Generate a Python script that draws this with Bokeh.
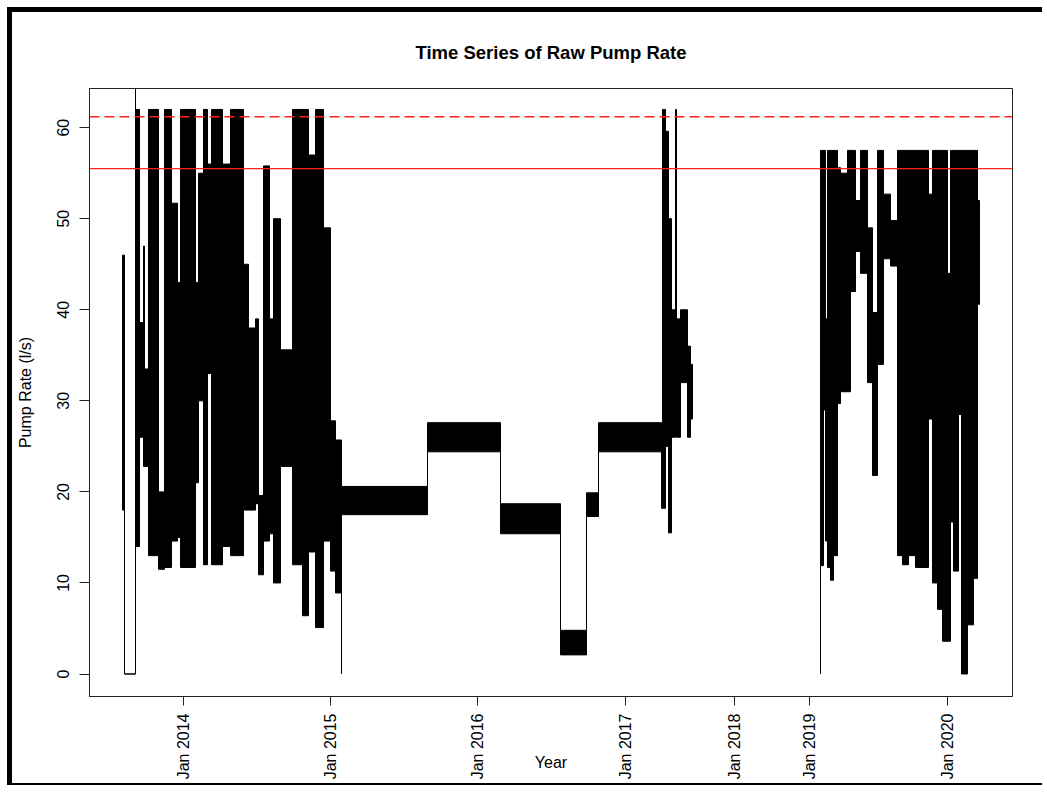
import math
from bokeh.plotting import figure
from bokeh.models import Range1d, FixedTicker, Span
from bokeh.embed import file_html
from bokeh.resources import INLINE

# ---- data -----------------------------------------------------------------
# Each stretch of the (very dense) raw series: observation index range and the
# min / max pump rate (l/s) that the trace covers inside that stretch.
seg_start = [0, 20, 20, 130, 130, 170, 210, 220, 260, 360, 420, 490, 550, 580,
             730, 760, 810, 850, 890, 1000, 1080, 1210, 1260, 1330, 1360, 1410,
             1470, 1510, 1580, 1700, 1800, 1860, 1930, 2010, 2080, 2130, 2190,
             2190, 3050, 3780, 4380, 4640, 4760, 5390, 5400, 5430, 5460, 5490,
             5530, 5540, 5580, 5650, 5680,
             6980, 6980, 7010, 7030, 7050, 7080, 7110, 7150, 7180, 7250, 7280,
             7330, 7380, 7450, 7500, 7550, 7610, 7680, 7750, 7800, 7860, 7930,
             8060, 8100, 8150, 8200, 8250, 8280, 8310, 8360, 8390, 8450, 8510,
             8550]
seg_end = [20, 20, 130, 130, 170, 210, 220, 260, 360, 420, 490, 550, 580, 730,
           760, 810, 850, 890, 1000, 1080, 1210, 1260, 1330, 1360, 1410, 1470,
           1510, 1580, 1700, 1800, 1860, 1930, 2010, 2080, 2130, 2190, 2190,
           3050, 3780, 4380, 4640, 4760, 5390, 5400, 5430, 5460, 5490, 5530,
           5540, 5580, 5650, 5680, 5700,
           6980, 7010, 7030, 7050, 7080, 7110, 7150, 7180, 7250, 7280, 7330,
           7380, 7450, 7500, 7550, 7610, 7680, 7750, 7800, 7860, 7930, 8060,
           8100, 8150, 8200, 8250, 8280, 8310, 8360, 8390, 8450, 8510, 8550,
           8570]
rate_low = [18, 0, 0, 0, 14, 26, 22.8, 22.8, 13, 11.5, 11.7, 14.6, 15, 11.7,
            21, 30, 12, 33, 12, 14, 13, 18, 18, 18.7, 10.9, 14.6,
            15.4, 10, 22.8, 12, 6.4, 13.4, 5.1, 14.6, 11.3, 8.9, 0,
            17.5, 24.4, 15.4, 2.1, 17.3, 24.4, 18.2, 18.2, 25, 15.5, 26,
            27, 26, 32, 26, 28,
            0, 11.9, 29, 14.6, 11.7, 10.3, 13, 29.7, 31, 31, 42,
            46.4, 44, 32, 21.8, 34, 45.6, 44.8, 13, 12, 13, 11.7,
            28, 10, 7.1, 3.6, 3.6, 16.7, 11.3, 28.5, 0, 5.4, 10.5,
            40.6]
rate_high = [46, 18, 0, 70, 62, 38.6, 47, 33.5, 62, 20, 62, 51.7, 43, 62,
             43, 55, 62, 56, 62, 56, 62, 45, 38, 39, 19.6, 55.8,
             39, 50, 35.6, 62, 62, 57, 62, 49, 27.8, 25.7, 25,
             20.6, 27.6, 18.7, 4.8, 19.9, 27.6, 27, 62, 59.6, 50, 40,
             62, 39, 40, 36, 34,
             41, 57.5, 57.5, 39, 57.5, 57.5, 57.5, 55.6, 55, 57.5, 57.5,
             52, 57.5, 49, 39.7, 57.5, 52.7, 49.8, 57.5, 57.5, 57.5, 57.5,
             52.7, 57.5, 57.5, 57.5, 44, 57.5, 57.5, 57.5, 57.5, 57.5, 57.5,
             52]

year_tick_obs = [610, 2080, 3550, 5030, 6120, 6870, 8250]
year_tick_labels = ["Jan 2014", "Jan 2015", "Jan 2016", "Jan 2017",
                    "Jan 2018", "Jan 2019", "Jan 2020"]
rate_ticks = [0, 10, 20, 30, 40, 50, 60]
upper_limit = 61.2   # dashed red reference line
threshold = 55.5     # solid red reference line

FONT = "Liberation Sans"

p = figure(width=1035, height=778,
           x_range=Range1d(-330, 8900), y_range=Range1d(-2.47, 64.3),
           output_backend="svg", toolbar_location=None,
           min_border_left=77, min_border_right=35,
           min_border_top=76, min_border_bottom=94)
p.styles = {"margin-left": "7px", "margin-top": "7px",
            "border-left": "5px solid black", "border-top": "5px solid black",
            "border-bottom": "2px solid black"}

p.title.text = "Time Series of Raw Pump Rate"
p.title.align = "center"
p.title.text_font = FONT
p.title.text_font_style = "bold"
p.title.text_font_size = "18.5px"
p.title.text_color = "black"
p.title.standoff = 52

p.grid.visible = False
p.outline_line_color = "#222222"
p.outline_line_width = 1

# dense series as filled stretches
p.quad(left=seg_start, right=seg_end, bottom=rate_low, top=rate_high,
       fill_color="black", line_color="black", line_width=1)

# vertical jumps between consecutive stretches
cx, cy0, cy1 = [], [], []
for i in range(len(seg_start) - 1):
    if seg_end[i] == seg_start[i + 1]:
        if rate_low[i + 1] > rate_high[i]:
            cx.append(seg_end[i]); cy0.append(rate_high[i]); cy1.append(rate_low[i + 1])
        elif rate_high[i + 1] < rate_low[i]:
            cx.append(seg_end[i]); cy0.append(rate_low[i]); cy1.append(rate_high[i + 1])
p.segment(x0=cx, y0=cy0, x1=cx, y1=cy1, line_color="black", line_width=1)

p.add_layout(Span(location=upper_limit, dimension="width", line_color="#ff2020",
                  line_width=1.3, line_dash="10 5"))
p.add_layout(Span(location=threshold, dimension="width", line_color="#ff2020",
                  line_width=1.3))

for ax in (p.xaxis[0], p.yaxis[0]):
    ax.axis_line_color = "#222222"
    ax.major_tick_line_color = "#222222"
    ax.minor_tick_line_color = None
    ax.major_tick_in = 0
    ax.major_label_text_font = FONT
    ax.major_label_text_font_size = "16px"
    ax.major_label_text_color = "black"
    ax.axis_label_text_font = FONT
    ax.axis_label_text_font_size = "16px"
    ax.axis_label_text_font_style = "normal"
    ax.axis_label_text_color = "black"

p.xaxis.ticker = FixedTicker(ticks=year_tick_obs)
p.xaxis.major_label_overrides = {t: l for t, l in zip(year_tick_obs, year_tick_labels)}
p.xaxis.major_label_orientation = math.pi / 2
p.xaxis.major_tick_out = 9
p.xaxis.major_label_standoff = 8
p.xaxis.axis_label = "Year"
p.xaxis.axis_label_standoff = -28

p.yaxis.ticker = FixedTicker(ticks=rate_ticks)
p.yaxis.major_label_orientation = "parallel"
p.yaxis.major_tick_out = 10
p.yaxis.major_label_standoff = 10
p.yaxis.axis_label = "Pump Rate (l/s)"
p.yaxis.axis_label_standoff = 21

open("out.html", "w").write(file_html(p, INLINE))
